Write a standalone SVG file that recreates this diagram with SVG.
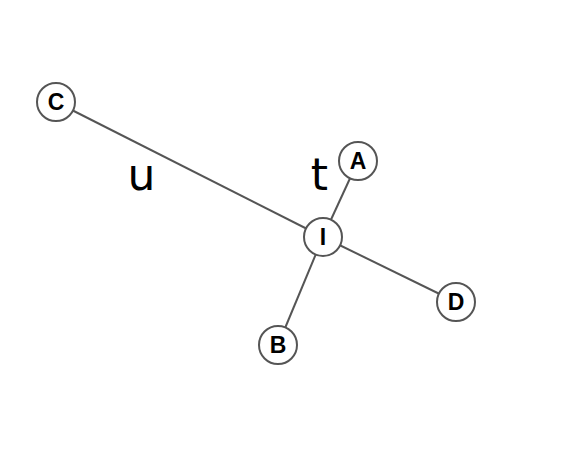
<svg xmlns="http://www.w3.org/2000/svg" width="584" height="454" viewBox="0 0 584 454">
<style>
.edge{stroke:#555;stroke-width:2;fill:none}
.node circle{fill:#fff;stroke:#555;stroke-width:2}
.node text{font-family:"Liberation Sans",Arial,sans-serif;font-weight:bold;font-size:23px;text-anchor:middle;fill:#000}
.lbl{font-family:"DejaVu Sans",sans-serif;font-size:44px;text-anchor:middle;fill:#000}
</style>
<rect width="584" height="454" fill="#fff"/>
<g id="connectors">
<line class="edge" x1="56" y1="102" x2="323" y2="237"/>
<line class="edge" x1="358" y1="161" x2="323" y2="237"/>
<line class="edge" x1="323" y1="237" x2="456" y2="302"/>
<line class="edge" x1="323" y1="237" x2="278" y2="345"/>
</g>
<g id="node-C" class="node"><circle cx="56" cy="102" r="19"/><text x="56" y="110">C</text></g>
<g id="node-A" class="node"><circle cx="358" cy="161" r="19"/><text x="358" y="169">A</text></g>
<g id="node-I" class="node"><circle cx="323" cy="237" r="19"/><text x="323" y="245">I</text></g>
<g id="node-D" class="node"><circle cx="456" cy="302" r="19"/><text x="456" y="310">D</text></g>
<g id="node-B" class="node"><circle cx="278" cy="345" r="19"/><text x="278" y="353">B</text></g>
<text class="lbl" x="141.5" y="190">u</text>
<text class="lbl" x="319.5" y="190">t</text>
</svg>
